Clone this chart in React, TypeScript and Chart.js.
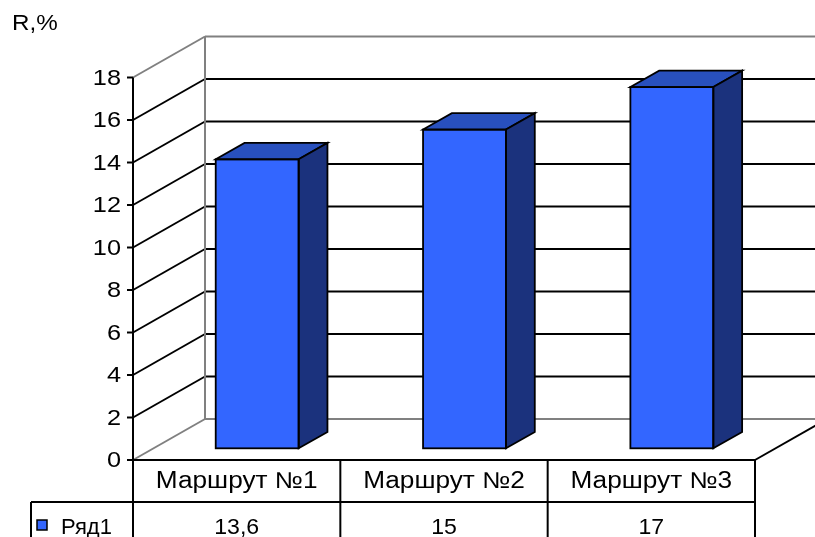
import React, { useEffect, useRef } from "react";
import { Chart, registerables } from "chart.js";

Chart.register(...registerables);

// Chart content
const categories = ["Маршрут №1", "Маршрут №2", "Маршрут №3"];
const routeValues = [13.6, 15, 17];
const seriesName = "Ряд1";
const yTicks = [0, 2, 4, 6, 8, 10, 12, 14, 16, 18];
const axisTitle = "R,%";

// Canvas and 3D projection settings
const W = 815;
const H = 537;
const DEPTH_X = 72;
const DEPTH_Y = 41;
const BAR_FRONT = 0.285;
const BAR_BACK = 0.685;
const FONT = '"Liberation Sans", Arial, sans-serif';
const GRAY = "#808080";
const FRONT_COLOR = "#3366FF";
const TOP_COLOR = "#2850BE";
const SIDE_COLOR = "#1B327D";
const ROW_H = 42;
const LEGEND_W = 102;

function stretchedText(
  ctx: CanvasRenderingContext2D,
  text: string,
  x: number,
  y: number,
  size: number,
  sx: number,
  align: CanvasTextAlign,
  baseline: CanvasTextBaseline = "alphabetic"
) {
  ctx.save();
  ctx.font = `${size}px ${FONT}`;
  ctx.fillStyle = "#000";
  ctx.textAlign = align;
  ctx.textBaseline = baseline;
  ctx.translate(x, y);
  ctx.scale(sx, 1);
  ctx.fillText(text, 0, 0);
  ctx.restore();
}

function line(ctx: CanvasRenderingContext2D, x1: number, y1: number, x2: number, y2: number) {
  ctx.beginPath();
  ctx.moveTo(x1, y1);
  ctx.lineTo(x2, y2);
  ctx.stroke();
}

function formatValue(v: number) {
  return String(v).replace(".", ",");
}

// Walls, floor, value axis and the data table under the plot
const scenePlugin = {
  id: "scene3d",
  beforeDatasetsDraw(chart: any) {
    const { ctx, chartArea, scales } = chart;
    const ys = scales.y;
    const L = chartArea.left;
    const R = chartArea.right;
    const maxV = yTicks[yTicks.length - 1];
    const y0 = ys.getPixelForValue(0);
    const yMax = ys.getPixelForValue(maxV);

    ctx.save();
    ctx.lineCap = "butt";

    // side wall diagonals and back wall gridlines
    yTicks.forEach((v) => {
      const yf = ys.getPixelForValue(v);
      const edge = v === 0 || v === maxV;
      ctx.strokeStyle = edge ? GRAY : "#000";
      ctx.lineWidth = 2;
      line(ctx, L, yf, L + DEPTH_X, yf - DEPTH_Y);
      line(ctx, L + DEPTH_X, yf - DEPTH_Y, R + DEPTH_X, yf - DEPTH_Y);
    });

    // back wall left edge
    ctx.strokeStyle = GRAY;
    ctx.lineWidth = 2;
    line(ctx, L + DEPTH_X, y0 - DEPTH_Y, L + DEPTH_X, yMax - DEPTH_Y);

    // floor right edge
    ctx.strokeStyle = "#000";
    ctx.lineWidth = 2;
    line(ctx, R, y0, R + DEPTH_X, y0 - DEPTH_Y);

    // value axis with tick marks
    ctx.lineWidth = 2;
    line(ctx, L, yMax, L, H);
    yTicks.forEach((v) => {
      const yf = ys.getPixelForValue(v);
      line(ctx, L - 6, yf, L, yf);
      stretchedText(ctx, String(v), L - 12, yf + 1, 22, 1.15, "right", "middle");
    });

    // axis title
    stretchedText(ctx, axisTitle, 12, 30, 22, 1.1, "left");

    // data table
    const n = categories.length;
    const colW = (R - L) / n;
    const rowMid = y0 + ROW_H;
    ctx.lineWidth = 2;
    line(ctx, L, y0, R, y0);
    line(ctx, L - LEGEND_W, rowMid, R, rowMid);
    for (let i = 0; i <= n; i++) {
      const x = L + i * colW;
      line(ctx, x, y0, x, H);
    }
    line(ctx, L - LEGEND_W, rowMid, L - LEGEND_W, H);

    categories.forEach((c, i) => {
      const cx = L + (i + 0.5) * colW;
      stretchedText(ctx, c, cx, y0 + ROW_H / 2 + 1, 23, 1.14, "center", "middle");
      stretchedText(ctx, formatValue(routeValues[i]), cx, rowMid + 32, 22, 1.05, "center");
    });

    // legend key
    const kx = L - LEGEND_W + 6;
    ctx.fillStyle = FRONT_COLOR;
    ctx.fillRect(kx, rowMid + 18, 10, 10);
    ctx.lineWidth = 1.5;
    ctx.strokeStyle = "#000";
    ctx.strokeRect(kx, rowMid + 18, 10, 10);
    stretchedText(ctx, seriesName, kx + 24, rowMid + 32, 22, 1.0, "left");

    ctx.restore();

    // bars are placed a little behind the front plane
    ctx.save();
    ctx.translate(BAR_FRONT * DEPTH_X, -BAR_FRONT * DEPTH_Y);
  },
  afterDatasetsDraw(chart: any) {
    const { ctx } = chart;
    ctx.restore();

    const meta = chart.getDatasetMeta(0);
    const ox = BAR_FRONT * DEPTH_X;
    const oy = BAR_FRONT * DEPTH_Y;
    const dx = (BAR_BACK - BAR_FRONT) * DEPTH_X;
    const dy = (BAR_BACK - BAR_FRONT) * DEPTH_Y;

    ctx.save();
    ctx.strokeStyle = "#000";
    ctx.lineWidth = 1.8;
    ctx.lineJoin = "miter";
    meta.data.forEach((bar: any) => {
      const { x, y, base, width } = bar.getProps(["x", "y", "base", "width"], true);
      const left = x - width / 2 + ox;
      const right = x + width / 2 + ox;
      const top = y - oy;
      const bottom = base - oy;

      // top face
      ctx.beginPath();
      ctx.moveTo(left, top);
      ctx.lineTo(left + dx, top - dy);
      ctx.lineTo(right + dx, top - dy);
      ctx.lineTo(right, top);
      ctx.closePath();
      ctx.fillStyle = TOP_COLOR;
      ctx.fill();
      ctx.stroke();

      // side face
      ctx.beginPath();
      ctx.moveTo(right, top);
      ctx.lineTo(right + dx, top - dy);
      ctx.lineTo(right + dx, bottom - dy);
      ctx.lineTo(right, bottom);
      ctx.closePath();
      ctx.fillStyle = SIDE_COLOR;
      ctx.fill();
      ctx.stroke();

      // front outline
      ctx.strokeRect(left, top, right - left, bottom - top);
    });
    ctx.restore();
  },
};

export default function App() {
  const canvasRef = useRef<HTMLCanvasElement | null>(null);

  useEffect(() => {
    if (!canvasRef.current) return;
    const chart = new Chart(canvasRef.current, {
      type: "bar",
      data: {
        labels: categories,
        datasets: [
          {
            label: seriesName,
            data: routeValues,
            backgroundColor: FRONT_COLOR,
            borderWidth: 0,
            categoryPercentage: 1,
            barPercentage: 0.4,
            clip: false as any,
          },
        ],
      },
      options: {
        responsive: false,
        animation: false,
        devicePixelRatio: 1,
        layout: { padding: { left: 133, right: 60, top: 77.5, bottom: 77 } },
        plugins: {
          legend: { display: false },
          tooltip: { enabled: false },
        },
        scales: {
          x: { display: false },
          y: { display: false, min: 0, max: 18 },
        },
      },
      plugins: [scenePlugin],
    });
    return () => chart.destroy();
  }, []);

  return (
    <div
      style={{
        position: "absolute",
        left: 0,
        top: 0,
        width: W,
        height: H,
        background: "#fff",
        overflow: "hidden",
      }}
    >
      <canvas ref={canvasRef} width={W} height={H} style={{ display: "block" }} />
    </div>
  );
}
